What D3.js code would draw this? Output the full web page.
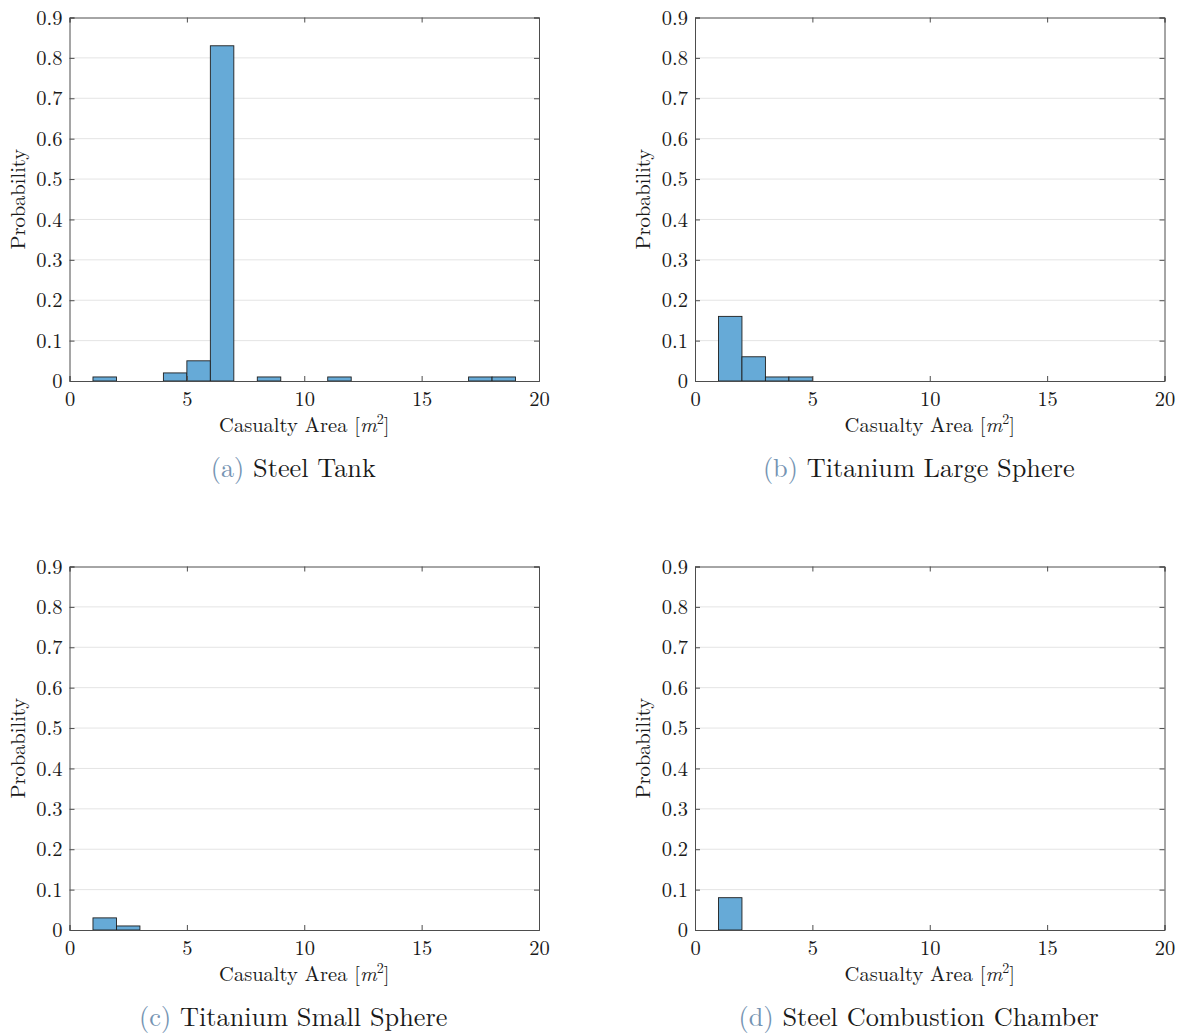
<!DOCTYPE html>
<html>
<head>
<meta charset="utf-8">
<script src="https://cdn.jsdelivr.net/npm/d3@7"></script>
<style>
  html, body { margin: 0; padding: 0; background: #fff; }
  svg { display: block; }
  text { font-family: "Latin Modern Roman", "CMU Serif", "Liberation Serif", "DejaVu Serif", serif; fill: #1a1a1a; }
</style>
</head>
<body>
<svg id="chart" width="1186" height="1034"></svg>
<script>
// Histogram bins (unit width): left edges and probabilities per component
const binWidth = 1;

const steelTankEdges = [1, 4, 5, 6, 8, 11, 17, 18];
const steelTankProb  = [0.01, 0.02, 0.05, 0.83, 0.01, 0.01, 0.01, 0.01];

const tiLargeEdges = [1, 2, 3, 4];
const tiLargeProb  = [0.16, 0.06, 0.01, 0.01];

const tiSmallEdges = [1, 2];
const tiSmallProb  = [0.03, 0.01];

const steelChamberEdges = [1];
const steelChamberProb  = [0.08];

const panelLetters = ["(a)", "(b)", "(c)", "(d)"];
const panelTitles  = ["Steel Tank", "Titanium Large Sphere", "Titanium Small Sphere", "Steel Combustion Chamber"];

const xDomain = [0, 20];
const yDomain = [0, 0.9];
const xTickValues = [0, 5, 10, 15, 20];
const yTickValues = [0, 0.1, 0.2, 0.3, 0.4, 0.5, 0.6, 0.7, 0.8, 0.9];

const panels = [
  { edges: steelTankEdges, prob: steelTankProb },
  { edges: tiLargeEdges, prob: tiLargeProb },
  { edges: tiSmallEdges, prob: tiSmallProb },
  { edges: steelChamberEdges, prob: steelChamberProb }
];

const svg = d3.select("#chart");

const plotW = 469.5, plotH = 363.5;
const origins = [
  [69.5, 17.5], [695, 17.5],
  [69.5, 566.5], [695, 566.5]
];
const tickLen = 5;
const axisColor = "#4d4d4d";

panels.forEach((p, i) => {
  const [ox, oy] = origins[i];
  const g = svg.append("g").attr("transform", `translate(${ox},${oy})`);

  const x = d3.scaleLinear().domain(xDomain).range([0, plotW]);
  const y = d3.scaleLinear().domain(yDomain).range([plotH, 0]);

  // horizontal grid
  g.append("g")
    .selectAll("line")
    .data(yTickValues.slice(1, -1))
    .join("line")
    .attr("x1", 0).attr("x2", plotW)
    .attr("y1", d => y(d)).attr("y2", d => y(d))
    .attr("stroke", "#e4e4e4")
    .attr("stroke-width", 1);

  // bars
  const bins = p.edges.map((e, k) => ({ x0: e, x1: e + binWidth, v: p.prob[k] }));
  g.append("g")
    .selectAll("rect")
    .data(bins)
    .join("rect")
    .attr("x", d => x(d.x0))
    .attr("y", d => y(d.v))
    .attr("width", d => x(d.x1) - x(d.x0))
    .attr("height", d => y(0) - y(d.v))
    .attr("fill", "#66aad7")
    .attr("stroke", "#1f1f1f")
    .attr("stroke-width", 0.9);

  // axes with inward ticks, mirrored on all sides
  const xAxisB = d3.axisBottom(x).tickValues(xTickValues).tickSize(-tickLen).tickPadding(10).tickFormat(d3.format("d"));
  const xAxisT = d3.axisTop(x).tickValues(xTickValues).tickSize(-tickLen).tickFormat("");
  const yAxisL = d3.axisLeft(y).tickValues(yTickValues).tickSize(-tickLen).tickPadding(7)
    .tickFormat(d => d === 0 ? "0" : d3.format(".1f")(d));
  const yAxisR = d3.axisRight(y).tickValues(yTickValues).tickSize(-tickLen).tickFormat("");

  const styleAxis = sel => {
    sel.select(".domain").attr("stroke", axisColor).attr("stroke-width", 1);
    sel.selectAll(".tick line").attr("stroke", axisColor).attr("stroke-width", 1);
    sel.selectAll(".tick text").attr("fill", "#1a1a1a").style("font-size", "20.5px");
  };

  g.append("g").attr("transform", `translate(0,${plotH})`).call(xAxisB).call(styleAxis);
  g.append("g").call(xAxisT).call(styleAxis);
  g.append("g").call(yAxisL).call(styleAxis);
  g.append("g").attr("transform", `translate(${plotW},0)`).call(yAxisR).call(styleAxis);

  // y label
  g.append("text")
    .attr("transform", `translate(${-45},${plotH / 2}) rotate(-90)`)
    .attr("text-anchor", "middle")
    .style("font-size", "20.5px")
    .text("Probability");

  // x label with italic m and superscript 2
  const xl = g.append("text")
    .attr("x", plotW / 2)
    .attr("y", plotH + 51)
    .attr("text-anchor", "middle")
    .style("font-size", "20.5px");
  xl.append("tspan").text("Casualty Area [");
  xl.append("tspan").attr("font-style", "italic").text("m");
  xl.append("tspan").attr("dy", -8).style("font-size", "14px").text("2");
  xl.append("tspan").attr("dy", 8).text("]");

  // caption
  const cap = g.append("text")
    .attr("x", plotW / 2 - 11)
    .attr("y", plotH + 96)
    .attr("text-anchor", "middle")
    .style("font-size", "26.3px");
  cap.append("tspan").style("fill", "#7594b3").text(panelLetters[i]);
  cap.append("tspan").text(" " + panelTitles[i]);
});
</script>
</body>
</html>
